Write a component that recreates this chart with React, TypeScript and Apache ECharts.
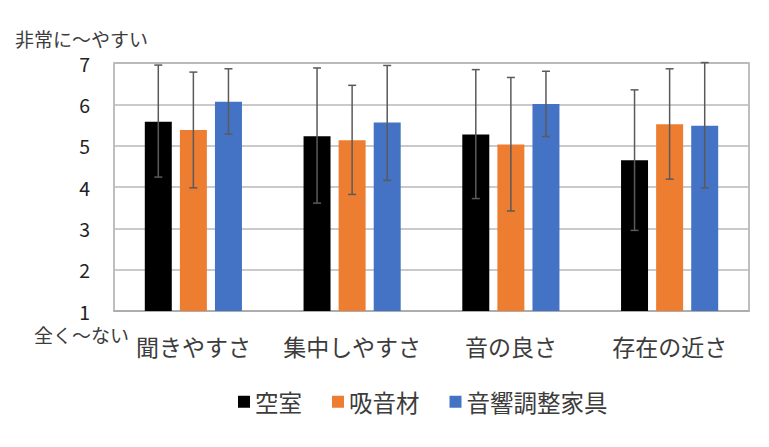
import React, { useEffect, useRef } from "react";
import * as echarts from "echarts";

const categories = ["聞きやすさ", "集中しやすさ", "音の良さ", "存在の近さ"];
const seriesNames = ["空室", "吸音材", "音響調整家具"];
const meanEmpty = [5.58, 5.23, 5.27, 4.65];
const meanAbsorb = [5.38, 5.13, 5.03, 5.52];
const meanFurniture = [6.06, 5.56, 6.01, 5.48];
const lowEmpty = [4.24, 3.61, 3.72, 2.95];
const highEmpty = [6.95, 6.88, 6.84, 6.35];
const lowAbsorb = [3.98, 3.82, 3.42, 4.19];
const highAbsorb = [6.78, 6.46, 6.65, 6.86];
const lowFurniture = [5.28, 4.16, 5.22, 3.98];
const highFurniture = [6.86, 6.94, 6.8, 7.01];
const yTicks = [1, 2, 3, 4, 5, 6, 7];

const colors = ["#000000", "#ED7D31", "#4472C4"];
const FONT = "Noto Sans CJK JP";
const TEXT = "#3c3c3c";

export default function App() {
  const ref = useRef<HTMLDivElement>(null);
  useEffect(() => {
    document.body.style.margin = "0";
    if (!ref.current) return;
    const chart = echarts.init(ref.current, null, { renderer: "svg" });
    const means = [meanEmpty, meanAbsorb, meanFurniture];
    const lows = [lowEmpty, lowAbsorb, lowFurniture];
    const highs = [highEmpty, highAbsorb, highFurniture];
    const barWidthFrac = 0.17;
    const gapFrac = 0.3;

    const barSeries = seriesNames.map((name, i) => ({
      name,
      type: "bar",
      data: means[i],
      barWidth: `${barWidthFrac * 100}%`,
      barGap: `${gapFrac * 100}%`,
      itemStyle: { color: colors[i] },
      z: 2,
    }));

    const errSeries = seriesNames.map((name, si) => ({
      name: name + "_err",
      type: "custom",
      z: 5,
      silent: true,
      data: categories.map((_, ci) => [ci, lows[si][ci], highs[si][ci]]),
      encode: { x: 0, y: [1, 2] },
      renderItem: (params: any, api: any) => {
        const ci = api.value(0);
        const lo = api.coord([ci, api.value(1)]);
        const hi = api.coord([ci, api.value(2)]);
        const band = api.size([1, 0])[0];
        const off = (si - 1) * band * barWidthFrac * (1 + gapFrac);
        const x = lo[0] + off;
        const cap = 4;
        const style = { stroke: "#5a5a5a", lineWidth: 1.5 };
        return {
          type: "group",
          children: [
            { type: "line", shape: { x1: x, y1: lo[1], x2: x, y2: hi[1] }, style },
            { type: "line", shape: { x1: x - cap, y1: hi[1], x2: x + cap, y2: hi[1] }, style },
            { type: "line", shape: { x1: x - cap, y1: lo[1], x2: x + cap, y2: lo[1] }, style },
          ],
        };
      },
    }));

    chart.setOption({
      animation: false,
      textStyle: { fontFamily: FONT },
      grid: {
        left: 114,
        right: 20,
        top: 63,
        bottom: 136,
        show: true,
        borderColor: "#a9a9a9",
        borderWidth: 1.5,
      },
      legend: {
        data: seriesNames.map((n, i) => ({ name: n, itemStyle: { color: colors[i] } })),
        left: 233,
        top: 385,
        icon: "rect",
        itemWidth: 12,
        itemHeight: 12,
        itemGap: 30,
        textStyle: { fontSize: 23.5, color: TEXT, fontFamily: FONT },
      },
      xAxis: {
        type: "category",
        data: categories,
        axisLine: { show: true, lineStyle: { color: "#a9a9a9", width: 1.5 } },
        axisTick: { show: false },
        axisLabel: { interval: 0, fontSize: 23, color: TEXT, margin: 23, fontFamily: FONT },
      },
      yAxis: {
        type: "value",
        min: yTicks[0],
        max: yTicks[yTicks.length - 1],
        interval: 1,
        axisLine: { show: false },
        axisTick: { show: false },
        axisLabel: { fontSize: 19.5, lineHeight: 15, color: "#222", margin: 24, fontFamily: FONT },
        splitLine: { lineStyle: { color: "#b8b8b8", width: 1.5 } },
      },
      graphic: [
        {
          type: "text",
          left: 15,
          top: 29,
          style: { text: "非常に〜やすい", fontSize: 19, lineHeight: 17, fill: TEXT, fontFamily: FONT },
        },
        {
          type: "text",
          left: 34,
          top: 325,
          style: { text: "全く〜ない", fontSize: 19, lineHeight: 17, fill: TEXT, fontFamily: FONT },
        },
      ],
      series: [...barSeries, ...errSeries],
    });
    return () => chart.dispose();
  }, []);
  return <div ref={ref} style={{ width: 769, height: 447 }} />;
}
